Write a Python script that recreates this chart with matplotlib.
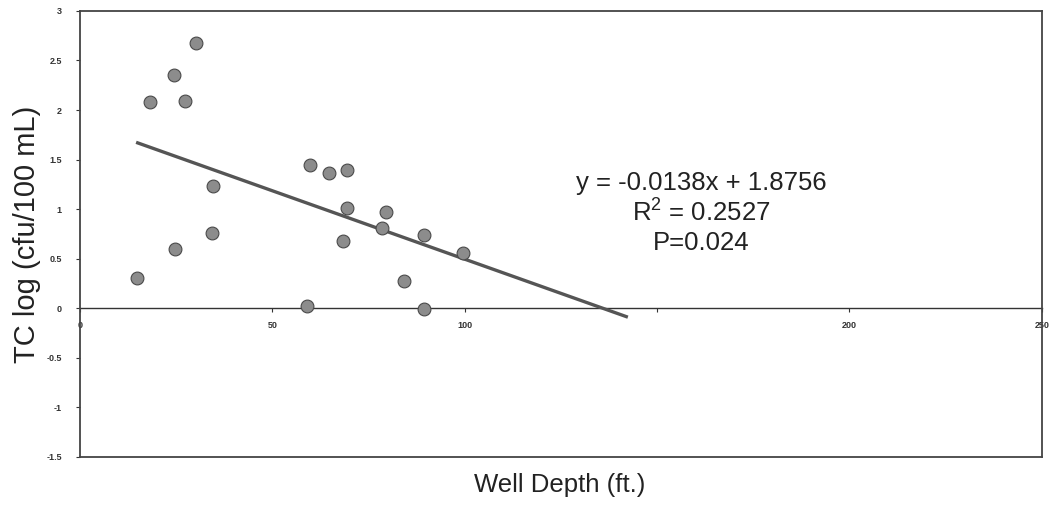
import numpy as np
import matplotlib.pyplot as plt

plt.rcParams['font.family'] = ['Liberation Sans', 'DejaVu Sans']

# well depth (ft) and total coliform log (cfu/100 mL)
depth = [14.9, 18.2, 24.4, 24.7, 27.2, 30.2, 34.4, 34.6, 59.1, 59.7,
         64.7, 68.4, 69.3, 69.5, 78.4, 79.5, 84.3, 89.3, 89.3, 99.6]
tc_log = [0.31, 2.08, 2.35, 0.60, 2.09, 2.68, 0.76, 1.23, 0.02, 1.45,
          1.36, 0.68, 1.01, 1.40, 0.81, 0.97, 0.28, 0.74, -0.01, 0.56]

# trend line from the chart
slope, intercept = -0.0138, 1.8756
fit_x = [15, 142]
eq_text = "y = -0.0138x + 1.8756\n$\\mathregular{R^2}$ = 0.2527\nP=0.024"

x_ticks = [0, 50, 100, 150, 200, 250]
x_ticklabels = ["0", "50", "100", "", "200", "250"]
y_ticks = [-1.5, -1, -0.5, 0, 0.5, 1, 1.5, 2, 2.5, 3]
y_ticklabels = ["-1.5", "-1", "-0.5", "0", "0.5", "1", "1.5", "2", "2.5", "3"]

fig = plt.figure(figsize=(10.62, 5.19), dpi=100)
ax = fig.add_axes([0.0753, 0.1195, 0.9057, 0.8595])

ax.scatter(depth, tc_log, s=85, color="#8c8c8c", edgecolors="#4a4a4a",
           linewidths=0.8, zorder=3)
fx = np.array(fit_x)
ax.plot(fx, slope * fx + intercept, color="#555555", linewidth=2.4, zorder=2)

ax.set_xlim(0, 250)
ax.set_ylim(-1.5, 3)

for s in ax.spines.values():
    s.set_color("#444444")
    s.set_linewidth(1.3)

# main x axis: no ticks, labels go on the line at y = 0
ax.set_xticks([])
zero_axis = ax.secondary_xaxis(1.5 / 4.5)
zero_axis.set_xticks(x_ticks)
zero_axis.set_xticklabels(x_ticklabels, fontsize=6.5, fontweight="bold")
zero_axis.spines["bottom"].set_color("#333333")
zero_axis.spines["bottom"].set_linewidth(1.0)
zero_axis.tick_params(length=3, width=0.8, pad=6, colors="#333333")

ax.set_yticks(y_ticks)
ax.set_yticklabels(y_ticklabels, fontsize=6.5, fontweight="bold")
ax.tick_params(axis="y", length=3, width=0.8, pad=10, colors="#333333")

ax.set_ylabel("TC log (cfu/100 mL)", fontsize=21, color="#222222", labelpad=4)
fig.text(0.527, 0.066, "Well Depth (ft.)", fontsize=18.5, color="#222222",
         ha="center", va="center")

ax.text(161.5, 0.96, eq_text, fontsize=18.5, color="#222222", ha="center",
        va="center", linespacing=1.2)

fig.savefig("out.png", dpi=100)
